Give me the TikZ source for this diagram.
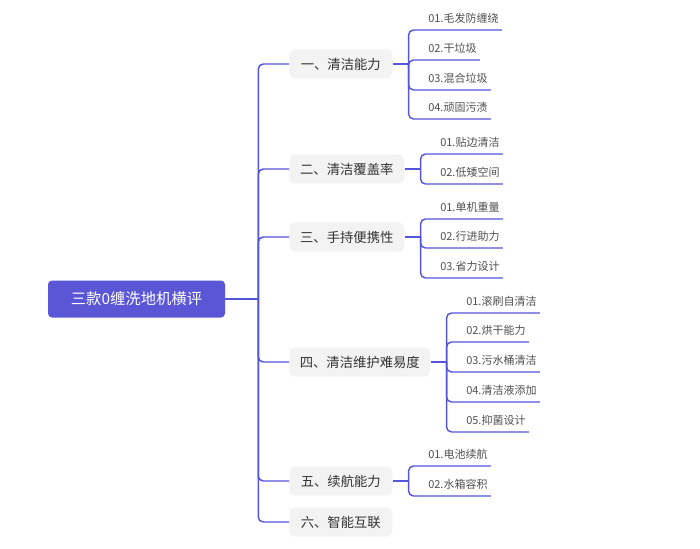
\documentclass[tikz,border=0pt]{standalone}
\usepackage{fontspec}
\setmainfont{Noto Sans CJK SC}
\usetikzlibrary{calc}
\definecolor{linec}{RGB}{85,85,220}
\definecolor{rootc}{RGB}{90,86,214}
\definecolor{boxc}{RGB}{243,243,243}
\definecolor{tone}{RGB}{51,51,51}
\definecolor{ttwo}{RGB}{80,80,80}
\begin{document}
\begin{tikzpicture}[x=0.75pt,y=-0.75pt,
  conn/.style={draw=linec,line width=1.1pt,rounded corners=3.75pt},
  rootbox/.style={fill=rootc,rounded corners=3pt,text=white,font=\fontsize{11.5pt}{14pt}\selectfont,minimum width=132.75pt,minimum height=27.75pt,inner sep=0pt},
  lone/.style={fill=boxc,rounded corners=4pt,text=tone,font=\fontsize{10pt}{12pt}\selectfont,minimum height=21.75pt,inner sep=0pt,anchor=west},
  leaf/.style={text=ttwo,font=\fontsize{8.25pt}{10pt}\selectfont,inner xsep=2.25pt,inner ysep=0pt,text depth=5.4pt,anchor=south west}]

\fill[white] (0,0) rectangle (700,549);
\useasboundingbox (0,0) rectangle (700,549);

% root
\node[rootbox] (root) at (136.5,299) {三款0缠洗地机横评};
\coordinate (trunk) at ($(root.east)+(33,0)$);

% level 1
\node[lone,minimum width=77.25pt] (p1) at (289,64) {一、清洁能力};
\node[lone,minimum width=86.25pt] (p2) at (289,169) {二、清洁覆盖率};
\node[lone,minimum width=86.25pt] (p3) at (289,237) {三、手持便携性};
\node[lone,minimum width=105.75pt] (p4) at (289,362) {四、清洁维护难易度};
\node[lone,minimum width=77.25pt] (p5) at (289,481) {五、续航能力};
\node[lone,minimum width=77.25pt] (p6) at (289,522) {六、智能互联};

\draw[conn] (root.east) -- (trunk);
\foreach \p in {p1,p2,p3,p4,p5,p6} \draw[conn] (trunk) |- (\p.west);

% junctions
\foreach \p/\j in {p1/j1,p2/j2,p3/j3,p4/j4,p5/j5}
  \coordinate (\j) at ($(\p.east)+(16,0)$);

% group 1
\node[leaf] (c11) at (425,30) {01.毛发防缠绕};
\node[leaf] (c12) at (425,60) {02.干垃圾};
\node[leaf] (c13) at (425,90) {03.混合垃圾};
\node[leaf] (c14) at (425,119) {04.顽固污渍};
% group 2
\node[leaf] (c21) at (437,154) {01.贴边清洁};
\node[leaf] (c22) at (437,184) {02.低矮空间};
% group 3
\node[leaf] (c31) at (437,219) {01.单机重量};
\node[leaf] (c32) at (437,248) {02.行进助力};
\node[leaf] (c33) at (437,278) {03.省力设计};
% group 4
\node[leaf] (c41) at (463,313) {01.滚刷自清洁};
\node[leaf] (c42) at (463,342) {02.烘干能力};
\node[leaf] (c43) at (463,372) {03.污水桶清洁};
\node[leaf] (c44) at (463,402) {04.清洁液添加};
\node[leaf] (c45) at (463,432) {05.抑菌设计};
% group 5
\node[leaf] (c51) at (425,466) {01.电池续航};
\node[leaf] (c52) at (425,496) {02.水箱容积};

\foreach \i in {1,...,5} \draw[conn] (p\i.east) -- (j\i);
\foreach \c in {c11,c12,c13,c14} \draw[conn] (j1) |- (\c.south east);
\foreach \c in {c21,c22} \draw[conn] (j2) |- (\c.south east);
\foreach \c in {c31,c32,c33} \draw[conn] (j3) |- (\c.south east);
\foreach \c in {c41,c42,c43,c44,c45} \draw[conn] (j4) |- (\c.south east);
\foreach \c in {c51,c52} \draw[conn] (j5) |- (\c.south east);
\end{tikzpicture}
\end{document}
